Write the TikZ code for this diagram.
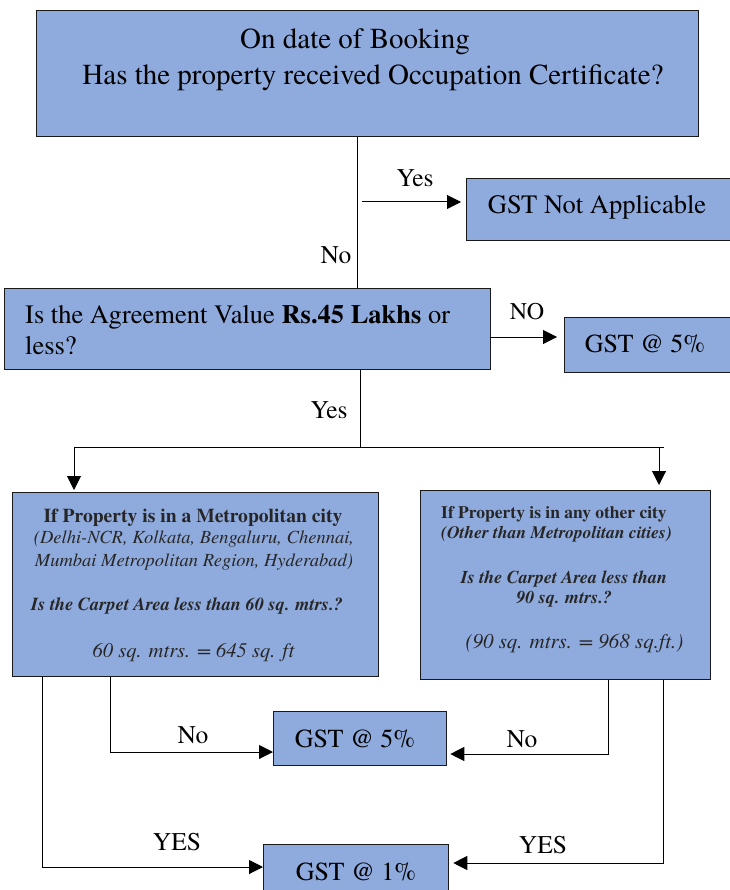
\documentclass[tikz,border=0pt]{standalone}
\usepackage{fontspec}
\IfFontExistsTF{TeX Gyre Termes}{\setmainfont{TeX Gyre Termes}}{\setmainfont{Liberation Serif}}
\usetikzlibrary{arrows.meta}
\definecolor{boxblue}{RGB}{143,170,220}
\newcommand{\myfs}[1]{\fontsize{#1}{#1}\selectfont}
\begin{document}
\begin{tikzpicture}[x=1pt,y=-1pt,
  box/.style={draw=black!90, line width=1.3pt, fill=boxblue, inner sep=0pt, anchor=north west},
  conn/.style={line width=1pt, draw=black},
  arr/.style={conn, -{Triangle[length=14pt,width=14pt]}},
  txt/.style={inner sep=0pt, anchor=base},
  txtl/.style={inner sep=0pt, anchor=base west},
  ctxt/.style={txt, text=black!85},
  ctxtl/.style={txtl, text=black!85}]
\useasboundingbox (0,0) rectangle (729,890);

% boxes
\node[box, minimum width=662pt, minimum height=126pt] (q1) at (36,10) {};
\node[box, minimum width=275pt, minimum height=62pt] (na) at (466,178) {};
\node[box, minimum width=486pt, minimum height=81pt] (q2) at (4,288) {};
\node[box, minimum width=175pt, minimum height=55pt] (g5a) at (564,317) {};
\node[box, minimum width=366pt, minimum height=184pt] (m) at (12,492) {};
\node[box, minimum width=290pt, minimum height=189pt] (o) at (420,490) {};
\node[box, minimum width=173pt, minimum height=54pt] (g5b) at (273,711) {};
\node[box, minimum width=185pt, minimum height=60pt] (g1) at (263,844) {};

% box texts
\node[txt, font=\myfs{29}] (q1a) at (355,49) {On date of Booking};
\node[txt, font=\myfs{29}] (q1b) at (373,85) {Has the property received Occupation Certificate?};
\node[txt, font=\myfs{26.5}] (nat) at (597,214) {GST Not Applicable};
\node[txtl, font=\myfs{26.5}] (q2a) at (25,323) {Is the Agreement Value \textbf{Rs.45 Lakhs} or};
\node[txtl, font=\myfs{26.5}] (q2b) at (25,354) {less?};
\node[txt, font=\myfs{26}] (g5at) at (645,352) {GST @ 5\%};
\node[txt, font=\myfs{26}] (g5bt) at (355,747) {GST @ 5\%};
\node[txt, font=\myfs{26}] (g1t) at (356,880) {GST @ 1\%};

\node[ctxt, font=\myfs{19.6}\bfseries] (m1) at (193,522) {If Property is in a Metropolitan city};
\node[ctxt, font=\myfs{18.5}\itshape] (m2) at (194,543) {(Delhi-NCR, Kolkata, Bengaluru, Chennai,};
\node[ctxt, font=\myfs{18.5}\itshape] (m3) at (194,566) {Mumbai Metropolitan Region, Hyderabad)};
\node[ctxt, font=\myfs{18.3}\bfseries\itshape] (m4) at (187,610) {Is the Carpet Area less than 60 sq. mtrs.?};
\node[ctxt, font=\myfs{20.6}\itshape] (m5) at (193.5,657) {60 sq. mtrs. = 645 sq. ft};

\node[ctxtl, font=\myfs{17.5}\bfseries] (o1) at (441,518) {If Property is in any other city};
\node[ctxtl, font=\myfs{17.5}\bfseries\itshape] (o2) at (441,538) {(Other than Metropolitan cities)};
\node[ctxt, font=\myfs{18}\bfseries\itshape] (o3) at (564,583) {Is the Carpet Area less than};
\node[ctxt, font=\myfs{18}\bfseries\itshape] (o4) at (564,603) {90 sq. mtrs.?};
\node[ctxt, font=\myfs{21}\itshape] (o5) at (574.5,648) {(90 sq. mtrs. = 968 sq.ft.)};

% connector labels
\node[txt, font=\myfs{25.5}] (l1) at (415,187) {Yes};
\node[txt, font=\myfs{25.5}] (l2) at (336,264) {No};
\node[txt, font=\myfs{24}] (l3) at (527,319) {NO};
\node[txt, font=\myfs{25.5}] (l4) at (329,418) {Yes};
\node[txt, font=\myfs{25.5}] (l5) at (193,743) {No};
\node[txt, font=\myfs{25.5}] (l6) at (522,747) {No};
\node[txt, font=\myfs{25.5}] (l7) at (177,850) {YES};
\node[txt, font=\myfs{25.5}] (l8) at (543,853) {YES};

% connectors
\coordinate (k1) at (357,0);
\draw[conn] (q1.south -| k1) -- (q2.north -| k1);
\coordinate (ys) at (362,202);
\draw[arr, shorten >=5pt] (ys) -- (ys -| na.west);
\coordinate (ns) at (490,337);
\draw[arr, shorten >=7pt] (ns) -- (ns -| g5a.west);
\coordinate (k2) at (360,447);
\draw[conn] (q2.south -| k2) -- (k2);
\coordinate (hl) at (74,447);
\coordinate (hr) at (664,447);
\coordinate (hr2) at (659,447);
\draw[conn] (hl) -- (hr);
\draw[arr, shorten >=2pt] (hl) -- (hl |- m.north);
\draw[arr, shorten >=5pt] (hr2) -- (hr2 |- o.north);

\coordinate (lo) at (42,867);
\coordinate (li) at (110,752);
\coordinate (ri) at (608,754);
\coordinate (ro) at (663,863);
\draw[arr] (m.south -| lo) -- (lo) -- (lo -| g1.west);
\draw[arr] (m.south -| li) -- (li) -- (li -| g5b.west);
\draw[arr, shorten >=3pt] (o.south -| ri) -- (ri) -- (ri -| g5b.east);
\draw[arr, shorten >=4pt] (o.south -| ro) -- (ro) -- (ro -| g1.east);
\end{tikzpicture}
\end{document}
